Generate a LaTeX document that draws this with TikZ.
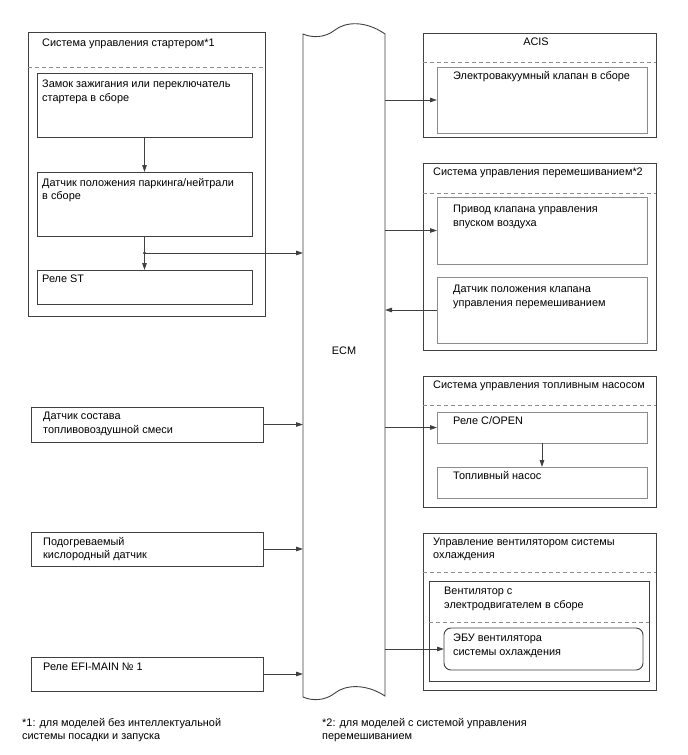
\documentclass[tikz,border=0pt]{standalone}
\usepackage{fontspec}
\setmainfont{Liberation Sans}
\usetikzlibrary{arrows.meta,calc}
\definecolor{lineclr}{HTML}{404040}
\definecolor{innerclr}{HTML}{8C8C8C}
\definecolor{dashclr}{HTML}{8C8C8C}
\begin{document}
\begin{tikzpicture}[x=1pt,y=-1pt,
  boxs/.style={draw=lineclr, line width=0.9pt, anchor=north west, inner sep=0pt, outer sep=0pt},
  graybox/.style={boxs, draw=innerclr},
  dsh/.style={draw=dashclr, line width=0.8pt, dash pattern=on 4pt off 3pt},
  arr/.style={draw=lineclr, line width=0.9pt, -{Triangle[length=7pt,width=4.5pt]}},
  conn/.style={draw=lineclr, line width=0.9pt},
  txt/.style={anchor=west, inner sep=0pt, text height=8pt, text depth=2.3pt, font=\fontsize{10.9}{12}\selectfont, text=black}
]
\useasboundingbox (0,0) rectangle (688,755);
\fill[white] (0,0) rectangle (688,755);

% ---------- left blocks ----------
\node[boxs, minimum width=237pt, minimum height=284pt] (starter) at (28,32) {};
\draw[dsh] (28,67) -- (265,67);
\node[boxs, minimum width=215pt, minimum height=64pt] (ign) at (37,73) {};
\node[boxs, minimum width=215pt, minimum height=64pt] (pn) at (37,172) {};
\node[boxs, minimum width=215pt, minimum height=34pt] (st) at (37,270) {};

\node[boxs, minimum width=232pt, minimum height=35pt] (afs) at (31,407) {};
\node[boxs, minimum width=232pt, minimum height=34pt] (ho2) at (31,532) {};
\node[boxs, minimum width=232pt, minimum height=34pt] (efi) at (31,657) {};

\node[txt] (tstarter) at (42,44) {Система управления стартером*1};
\node[txt] (tign1) at (42,85) {Замок зажигания или переключатель};
\node[txt] (tign2) at (42,99) {стартера в сборе};
\node[txt] (tpn1) at (42,184) {Датчик положения паркинга/нейтрали};
\node[txt] (tpn2) at (42,197) {в сборе};
\node[txt] (tst) at (42,280) {Реле ST};
\node[txt] (tafs1) at (43,417) {Датчик состава};
\node[txt] (tafs2) at (43,431) {топливовоздушной смеси};
\node[txt] (tho21) at (43,543) {Подогреваемый};
\node[txt] (tho22) at (43,556) {кислородный датчик};
\node[txt] (tefi) at (43,668) {Реле EFI-MAIN № 1};

% ---------- ECM ----------
\node[anchor=north west, inner sep=0pt, outer sep=0pt, minimum width=82pt, minimum height=663pt] (ecm) at (303,34) {};
\draw[conn] (303,697) -- (303,34)
  .. controls (312,38) and (325,38) .. (335,30)
  .. controls (345,22) and (365,20) .. (385,34)
  -- (385,696)
  .. controls (365,683) and (345,685) .. (335,693)
  .. controls (325,701) and (312,701) .. (303,697);
\node[txt, anchor=center] (tecm) at (344,352) {ECM};

% ---------- right blocks ----------
\node[boxs, minimum width=233pt, minimum height=104pt] (acis) at (423,33) {};
\draw[dsh] (423,62) -- (656,62);
\node[graybox, minimum width=210pt, minimum height=66pt] (acisin) at (437,67) {};
\node[txt, anchor=center] (tacis) at (536,43) {ACIS};
\node[txt] (tacisin) at (453,77) {Электровакуумный клапан в сборе};

\node[boxs, minimum width=233pt, minimum height=187pt] (mix) at (423,163) {};
\draw[dsh] (423,193) -- (656,193);
\node[graybox, minimum width=210pt, minimum height=67pt] (mixa) at (437,197) {};
\node[graybox, minimum width=210pt, minimum height=66pt] (mixb) at (437,277) {};
\node[txt] (tmix) at (433,173) {Система управления перемешиванием*2};
\node[txt] (tmixa1) at (453,210) {Привод клапана управления};
\node[txt] (tmixa2) at (453,224) {впуском воздуха};
\node[txt] (tmixb1) at (453,290) {Датчик положения клапана};
\node[txt] (tmixb2) at (453,304) {управления перемешиванием};

\node[boxs, minimum width=233pt, minimum height=131pt] (fuel) at (423,376) {};
\draw[dsh] (423,405) -- (656,405);
\node[graybox, minimum width=210pt, minimum height=31pt] (copen) at (437,412) {};
\node[graybox, minimum width=210pt, minimum height=31pt] (pump) at (437,467) {};
\node[txt] (tfuel) at (433,386) {Система управления топливным насосом};
\node[txt] (tcopen) at (453,422) {Реле C/OPEN};
\node[txt] (tpump) at (453,477) {Топливный насос};

\node[boxs, minimum width=233pt, minimum height=157pt] (fan) at (423,533) {};
\draw[dsh] (423,572) -- (656,572);
\node[boxs, minimum width=220pt, minimum height=100pt] (fanin) at (429,581) {};
\draw[dsh] (429,622) -- (649,622);
\node[boxs, minimum width=199pt, minimum height=42pt, rounded corners=7pt] (ecu) at (444,628) {};
\node[txt] (tfan1) at (433,543) {Управление вентилятором системы};
\node[txt] (tfan2) at (433,556) {охлаждения};
\node[txt] (tfanin1) at (444,592) {Вентилятор с};
\node[txt] (tfanin2) at (444,606) {электродвигателем в сборе};
\node[txt] (tecu1) at (453,639) {ЭБУ вентилятора};
\node[txt] (tecu2) at (453,653) {системы охлаждения};

% ---------- connectors ----------
\draw[arr] (ign.south) -- (pn.north);
\draw[arr] (pn.south) -- (st.north);
\coordinate (jn) at ($(pn.south)!0.5!(st.north)$);
\fill[lineclr] (jn) circle (1.6pt);
\draw[arr] (jn) -- (jn -| ecm.west);
\draw[arr] (afs.east) -- (afs.east -| ecm.west);
\draw[arr] (ho2.east) -- (ho2.east -| ecm.west);
\draw[arr] (efi.east) -- (efi.east -| ecm.west);

\draw[arr] (ecm.east |- acisin.west) -- (acisin.west);
\draw[arr] (ecm.east |- mixa.west) -- (mixa.west);
\draw[arr] (mixb.west) -- (mixb.west -| ecm.east);
\draw[arr] (ecm.east |- copen.west) -- (copen.west);
\draw[arr] (copen.south) -- (pump.north);
\draw[arr] (ecm.east |- ecu.west) -- (ecu.west);

% ---------- footnotes ----------
\node[txt] (fn1a) at (22,724) {*1: для моделей без интеллектуальной};
\node[txt] (fn1b) at (22,737) {системы посадки и запуска};
\node[txt] (fn2a) at (322,724) {*2: для моделей с системой управления};
\node[txt] (fn2b) at (322,737) {перемешиванием};
\end{tikzpicture}
\end{document}
